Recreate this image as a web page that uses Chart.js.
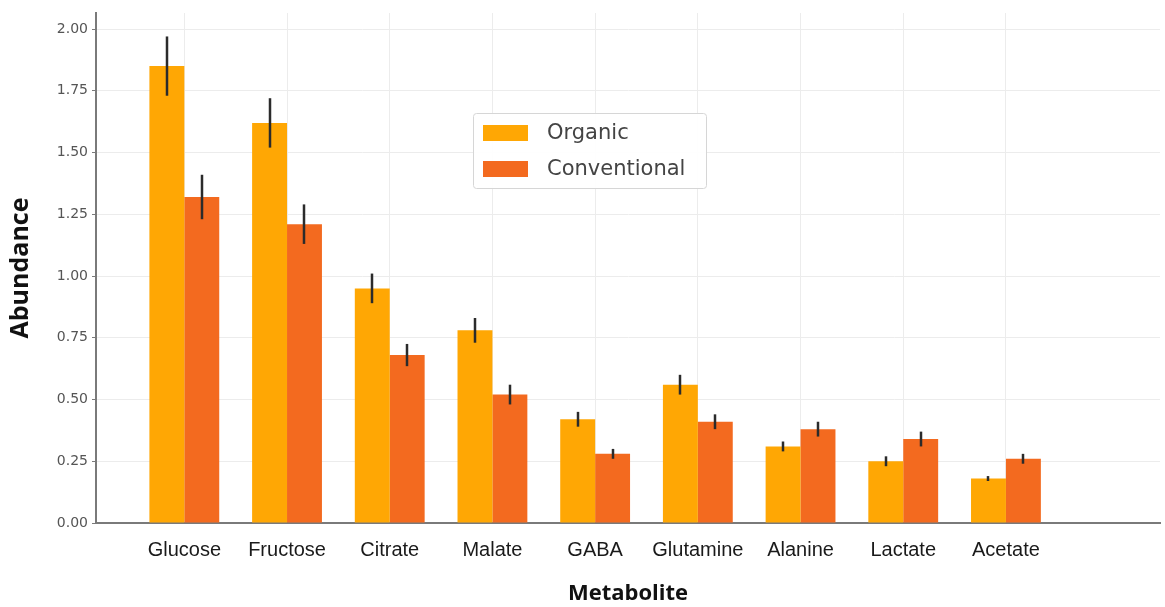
<!DOCTYPE html>
<html>
<head>
<meta charset="utf-8">
<script src="https://cdn.jsdelivr.net/npm/chart.js@4/dist/chart.umd.min.js"></script>
<style>
  html, body { margin: 0; padding: 0; background: #fff; }
  #wrap { width: 1165px; height: 607px; position: relative; }
</style>
</head>
<body>
<div id="wrap"><canvas id="bar_chart"></canvas></div>
<script>
// DATA
const metabolites = ['Glucose', 'Fructose', 'Citrate', 'Malate', 'GABA', 'Glutamine', 'Alanine', 'Lactate', 'Acetate'];
const organic = [1.85, 1.62, 0.95, 0.78, 0.42, 0.56, 0.31, 0.25, 0.18];
const organic_err = [0.12, 0.10, 0.06, 0.05, 0.03, 0.04, 0.02, 0.02, 0.01];
const conventional = [1.32, 1.21, 0.68, 0.52, 0.28, 0.41, 0.38, 0.34, 0.26];
const conventional_err = [0.09, 0.08, 0.045, 0.04, 0.02, 0.03, 0.03, 0.03, 0.02];
const y_ticks = [0, 0.25, 0.5, 0.75, 1.0, 1.25, 1.5, 1.75, 2.0];

const ORANGE = '#FFA704';
const DARK_ORANGE = '#F36A1F';

const ctx = document.getElementById('bar_chart').getContext('2d');

// error bars, drawn on top of each bar
const errorBars = {
	id: 'errorBars',
	afterDatasetsDraw(chart){
		const c = chart.ctx;
		const y = chart.scales.y;
		c.save();
		c.strokeStyle = '#2b2b2b';
		c.lineWidth = 2.5;
		chart.data.datasets.forEach((ds, i) => {
			const meta = chart.getDatasetMeta(i);
			meta.data.forEach((bar, j) => {
				const v = ds.data[j].y, e = ds.errors[j];
				c.beginPath();
				c.moveTo(Math.round(bar.x), y.getPixelForValue(v + e));
				c.lineTo(Math.round(bar.x), y.getPixelForValue(v - e));
				c.stroke();
			});
		});
		c.restore();
	}
};

// legend box inside the plot
const boxLegend = {
	id: 'boxLegend',
	afterDraw(chart){
		const c = chart.ctx;
		const x0 = 473, y0 = 113, w = 233, h = 75;
		c.save();
		c.fillStyle = 'rgba(255,255,255,0.95)';
		c.strokeStyle = '#d6d6d6';
		c.lineWidth = 1;
		c.beginPath();
		c.roundRect(x0 + 0.5, y0 + 0.5, w, h, 3);
		c.fill();
		c.stroke();
		c.font = '21px "DejaVu Sans"';
		c.textBaseline = 'middle';
		chart.data.datasets.forEach((ds, i) => {
			const cy = y0 + 20 + i * 36;
			c.fillStyle = ds.backgroundColor;
			c.fillRect(x0 + 10, cy - 8, 45, 16);
			c.fillStyle = '#444';
			c.fillText(ds.label, x0 + 74, cy + 1);
		});
		c.restore();
	}
};

const toPoints = list => list.map((v, i) => ({x: i, y: v}));

const my_chart = new Chart(ctx, {
	type: 'bar',
	data: {
		datasets: [{
			label: 'Organic',
			data: toPoints(organic),
			errors: organic_err,
			backgroundColor: ORANGE,
			borderWidth: 0,
			categoryPercentage: 0.68,
			barPercentage: 1.0
		},{
			label: 'Conventional',
			data: toPoints(conventional),
			errors: conventional_err,
			backgroundColor: DARK_ORANGE,
			borderWidth: 0,
			categoryPercentage: 0.68,
			barPercentage: 1.0
		}]
	},
	options: {
		responsive: true,
		maintainAspectRatio: false,
		animation: false,
		layout: { padding: { top: 13, right: 5, left: 0, bottom: 0 } },
		plugins: {
			legend: { display: false },
			tooltip: { enabled: false }
		},
		scales: {
			x: {
				type: 'linear',
				offset: false,
				min: -0.86,
				max: 9.5,
				afterFit: s => { s.height = 84; },
				afterBuildTicks: s => {
					s.ticks = s.ticks.filter(t => t.value >= 0 && t.value < metabolites.length);
				},
				ticks: {
					stepSize: 1,
					includeBounds: false,
					autoSkip: false,
					maxRotation: 0,
					padding: 15,
					color: '#1a1a1a',
					font: { family: '"Liberation Sans", Arial', size: 20 },
					callback: v => metabolites[v] || ''
				},
				grid: { color: '#ececec', lineWidth: 1, drawTicks: false, offset: false },
				border: { color: '#7a7a7a', width: 2 },
				title: {
					display: true,
					text: 'Metabolite',
					color: '#111',
					font: { family: '"Open Sans"', size: 22, weight: 'bold' },
					padding: { top: 6, bottom: 0 }
				}
			},
			y: {
				min: 0,
				max: 2.065,
				afterFit: s => { s.width = 96; },
				afterBuildTicks: s => {
					s.ticks = y_ticks.map(v => ({value: v}));
				},
				ticks: {
					stepSize: 0.25,
					includeBounds: false,
					padding: 4,
					color: '#555',
					font: { family: '"DejaVu Sans"', size: 14 },
					callback: v => Number(v).toFixed(2)
				},
				grid: { color: '#ececec', lineWidth: 1, tickLength: 4, tickColor: '#7a7a7a' },
				border: { color: '#7a7a7a', width: 2 },
				title: {
					display: true,
					text: 'Abundance',
					color: '#111',
					font: { family: '"Open Sans"', size: 25, weight: 'bold' },
					padding: { top: 6, bottom: 0 }
				}
			}
		}
	},
	plugins: [errorBars, boxLegend]
});
</script>
</body>
</html>
